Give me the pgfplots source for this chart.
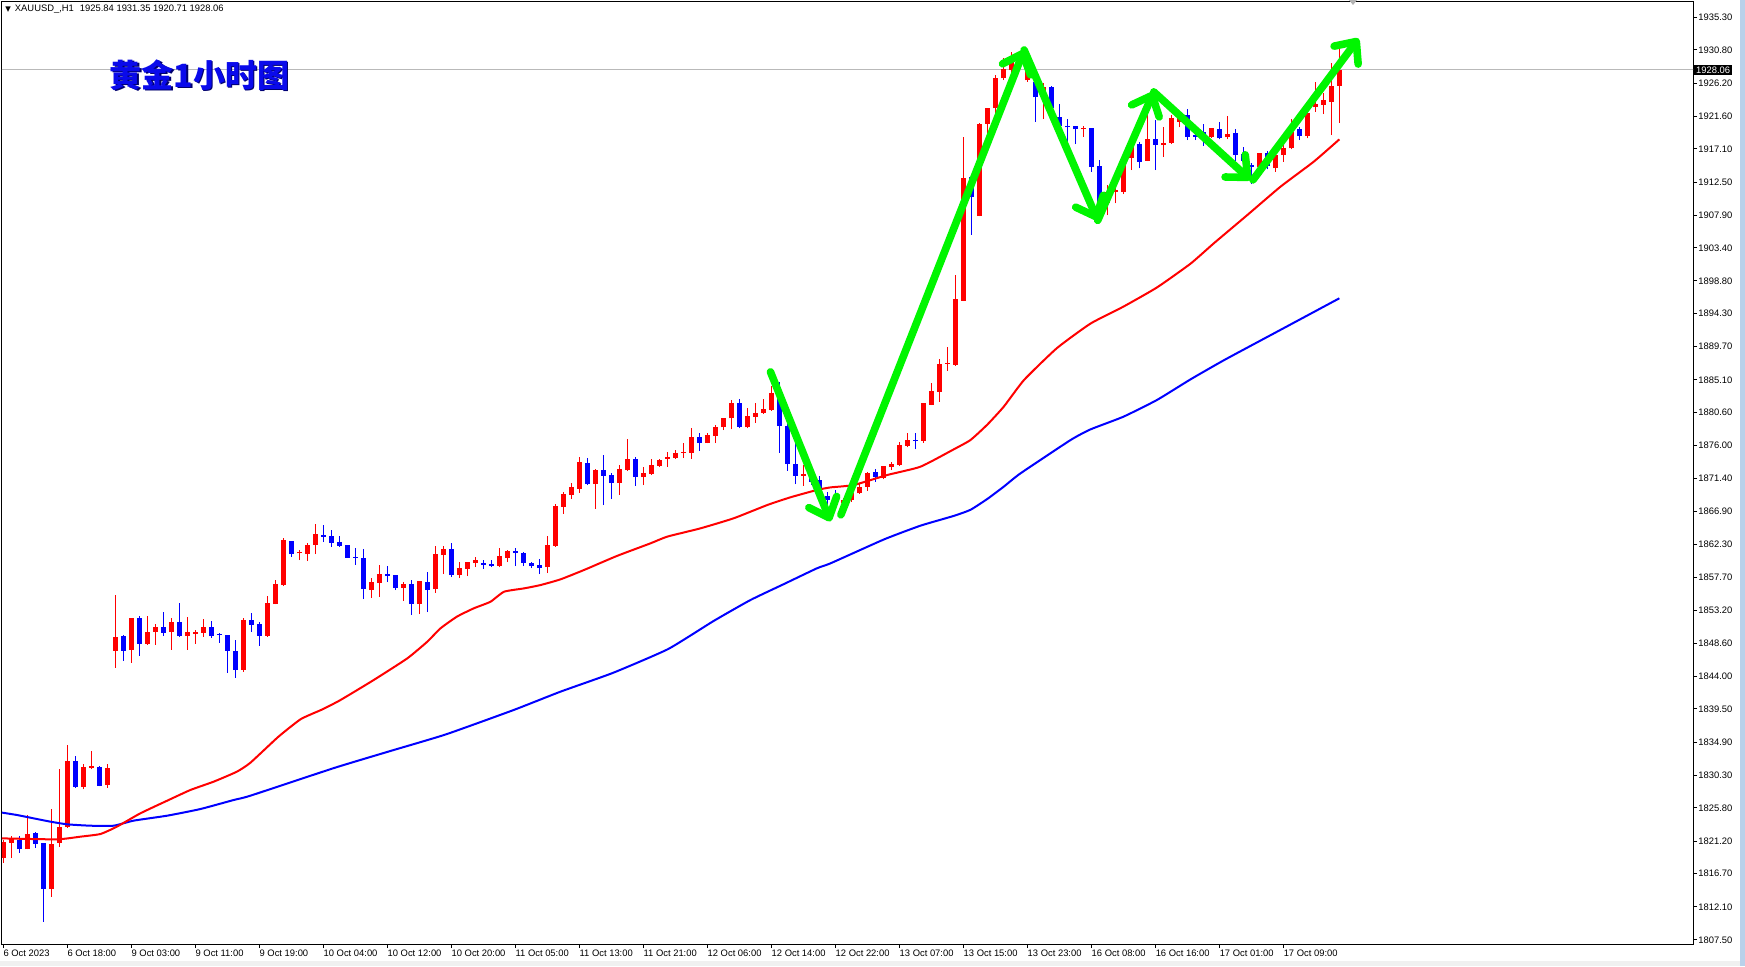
\documentclass[border=0pt]{standalone}
\usepackage{fontspec}
\setmainfont{Liberation Sans}
\newfontfamily\cjk{Noto Sans CJK SC}
\newfontfamily\dejavu{DejaVu Sans}
\usepackage{pgfplots}
\pgfplotsset{compat=1.18}
\usepackage{pgfplotstable}
\usetikzlibrary{arrows.meta}
\definecolor{mtred}{RGB}{255,0,0}
\definecolor{mtblue}{RGB}{0,0,255}
\definecolor{arrowgreen}{RGB}{0,245,0}
\definecolor{striplb}{RGB}{185,209,234}
\definecolor{titleblue}{RGB}{10,10,235}

\pgfplotstableread{
i o h l c
0 1818.90 1821.30 1818.21 1821.12
1 1820.98 1821.90 1818.90 1821.58
3 1820.06 1824.77 1820.06 1822.18
6 1814.61 1825.64 1813.50 1820.80
7 1820.98 1831.19 1820.43 1823.15
8 1823.15 1834.51 1823.06 1832.29
10 1828.74 1831.83 1828.37 1831.46
11 1831.32 1833.68 1831.14 1831.60
13 1829.02 1831.88 1828.60 1831.32
14 1847.58 1855.29 1845.22 1849.47
16 1847.72 1852.15 1845.92 1852.11
18 1848.55 1852.38 1848.41 1850.17
19 1850.17 1851.27 1848.41 1850.86
21 1850.17 1852.11 1847.72 1851.55
23 1849.61 1852.24 1847.72 1850.17
24 1849.93 1850.44 1848.55 1850.17
25 1850.03 1851.97 1849.52 1850.86
30 1844.95 1852.11 1844.67 1851.83
33 1849.65 1855.10 1849.52 1854.18
34 1854.04 1857.37 1854.00 1856.81
35 1856.67 1863.14 1856.53 1862.91
37 1861.06 1861.52 1860.14 1861.25
38 1860.97 1862.54 1860.00 1862.22
39 1862.26 1865.12 1860.97 1863.74
46 1855.98 1857.64 1854.92 1857.09
47 1856.95 1859.49 1855.06 1858.20
50 1856.30 1857.09 1854.46 1856.81
52 1854.04 1857.25 1852.66 1857.23
54 1856.12 1862.08 1855.61 1860.97
55 1860.83 1862.08 1858.20 1861.66
57 1858.06 1859.86 1857.64 1859.03
58 1858.89 1859.90 1857.92 1859.86
59 1859.72 1860.55 1859.17 1860.14
62 1859.31 1861.85 1859.17 1860.69
63 1860.41 1861.52 1859.86 1861.38
68 1859.17 1863.46 1858.34 1862.22
69 1862.12 1867.90 1861.98 1867.62
70 1867.53 1869.56 1866.56 1869.29
71 1869.15 1870.86 1868.59 1870.26
72 1869.98 1874.41 1869.43 1873.72
74 1870.67 1872.75 1867.21 1872.61
77 1870.81 1873.31 1869.15 1872.75
78 1872.61 1876.91 1872.47 1874.14
80 1871.64 1873.03 1870.53 1872.20
81 1872.06 1874.14 1871.92 1873.31
82 1873.17 1874.14 1873.03 1874.00
83 1874.14 1875.11 1873.03 1874.41
84 1874.27 1875.38 1874.20 1874.97
85 1874.97 1876.31 1874.27 1875.11
86 1874.97 1878.43 1874.14 1877.19
88 1876.35 1877.74 1876.30 1877.46
89 1877.32 1878.85 1876.35 1878.57
90 1878.52 1879.80 1878.15 1879.77
91 1879.77 1882.31 1878.25 1881.85
93 1878.52 1881.15 1878.38 1880.09
94 1880.00 1881.85 1879.17 1880.55
95 1880.55 1882.40 1880.37 1881.02
96 1880.92 1884.25 1880.83 1883.23
100 1871.78 1873.30 1870.40 1872.06
105 1867.99 1868.78 1867.90 1868.45
106 1868.45 1869.60 1868.20 1869.38
107 1869.38 1870.86 1869.29 1870.21
108 1870.30 1872.29 1869.75 1872.24
110 1871.46 1873.17 1871.32 1873.17
111 1873.07 1873.77 1872.61 1873.40
112 1873.30 1876.54 1873.17 1876.07
113 1875.98 1877.78 1875.75 1876.77
115 1876.63 1881.94 1876.40 1881.90
116 1881.62 1884.71 1881.60 1883.60
117 1883.46 1887.94 1882.08 1887.30
118 1887.30 1889.61 1886.37 1887.48
119 1887.16 1899.63 1887.02 1896.26
120 1896.07 1918.79 1896.00 1913.02
122 1907.80 1920.73 1907.75 1920.55
123 1920.55 1922.75 1918.33 1922.72
124 1922.72 1927.34 1922.12 1926.87
125 1926.87 1929.64 1926.64 1928.12
126 1928.00 1930.57 1927.60 1929.30
128 1926.60 1929.50 1926.40 1927.90
130 1924.24 1926.27 1921.23 1925.71
135 1919.80 1920.27 1918.79 1919.99
138 1909.55 1912.09 1907.93 1911.17
139 1911.17 1911.63 1909.55 1911.40
140 1911.17 1916.25 1910.84 1916.02
141 1915.79 1917.86 1914.17 1917.40
143 1915.46 1921.79 1915.40 1918.46
145 1917.63 1920.08 1916.02 1917.86
146 1917.96 1921.79 1917.77 1921.33
147 1920.87 1921.79 1920.08 1921.33
151 1918.70 1920.00 1918.60 1919.95
153 1918.70 1921.66 1918.42 1919.16
157 1914.54 1916.58 1914.40 1916.48
159 1914.40 1916.30 1913.94 1916.25
160 1916.25 1917.87 1915.33 1917.18
161 1917.18 1921.19 1917.04 1919.48
163 1918.88 1922.12 1918.56 1922.02
164 1922.86 1926.41 1922.26 1923.32
165 1923.18 1924.80 1921.93 1923.87
166 1923.64 1928.95 1919.02 1925.81
167 1925.84 1931.35 1920.71 1928.06
}\bull

\pgfplotstableread{
i o h l c
2 1821.35 1821.90 1819.60 1820.06
4 1822.27 1822.50 1820.29 1820.80
5 1820.89 1820.95 1810.03 1814.61
9 1832.29 1832.99 1828.60 1828.69
12 1831.46 1831.60 1828.78 1828.88
15 1849.61 1849.70 1846.19 1847.58
17 1852.11 1852.38 1846.89 1848.55
20 1850.86 1852.94 1849.66 1850.03
22 1851.55 1854.18 1849.47 1849.61
26 1850.86 1851.69 1849.38 1849.61
27 1849.84 1850.03 1848.69 1849.75
28 1849.75 1849.80 1844.53 1847.58
29 1847.58 1849.06 1843.84 1844.95
31 1851.83 1852.75 1850.21 1851.18
32 1851.27 1851.59 1848.27 1849.65
36 1862.77 1862.80 1860.60 1860.97
40 1863.65 1864.99 1862.63 1863.37
41 1863.46 1864.29 1861.98 1862.54
42 1862.63 1863.46 1861.98 1862.12
43 1862.22 1862.25 1860.42 1860.46
44 1860.55 1861.85 1859.45 1860.46
45 1860.41 1861.66 1854.73 1856.12
48 1858.20 1859.31 1857.09 1857.92
49 1858.06 1858.10 1855.98 1856.26
51 1856.81 1857.37 1852.52 1854.04
53 1857.09 1858.47 1852.93 1855.98
56 1861.66 1862.49 1857.78 1858.06
60 1859.72 1860.14 1858.94 1859.49
61 1859.58 1860.14 1859.17 1859.31
64 1861.38 1861.85 1859.31 1861.11
65 1861.11 1861.25 1859.31 1859.77
66 1859.72 1859.86 1859.03 1859.31
67 1859.45 1860.28 1858.20 1859.03
73 1873.58 1874.27 1870.53 1870.67
75 1872.61 1874.69 1867.76 1871.78
76 1871.92 1872.20 1868.59 1870.81
79 1874.14 1874.41 1870.40 1871.64
87 1877.19 1877.74 1875.25 1876.35
92 1881.85 1882.40 1878.38 1878.61
97 1883.23 1884.85 1875.01 1878.70
98 1878.70 1879.31 1872.52 1873.44
99 1873.44 1876.30 1870.67 1871.78
101 1871.78 1872.15 1870.53 1871.00
102 1871.23 1871.78 1868.46 1869.01
103 1869.01 1869.50 1867.60 1868.40
104 1868.22 1869.84 1867.85 1867.90
109 1872.29 1872.75 1871.00 1871.59
114 1876.72 1877.78 1875.47 1876.63
121 1913.25 1913.30 1905.17 1910.39
127 1929.30 1930.40 1927.90 1928.80
129 1926.41 1926.45 1920.87 1924.24
131 1925.71 1925.80 1922.39 1922.71
132 1921.47 1923.31 1920.08 1920.27
133 1920.22 1921.19 1918.09 1920.08
134 1920.27 1920.30 1917.77 1919.80
136 1919.99 1920.00 1913.94 1914.63
137 1914.72 1915.55 1908.86 1909.64
142 1917.77 1918.09 1914.40 1915.32
144 1918.46 1921.10 1914.17 1917.63
148 1921.79 1922.57 1918.33 1918.79
149 1919.02 1919.72 1918.33 1918.79
150 1919.40 1920.55 1917.55 1918.90
152 1919.81 1920.82 1918.42 1918.56
154 1919.25 1919.81 1915.47 1916.25
155 1916.39 1917.41 1915.10 1915.47
156 1914.87 1915.19 1912.23 1914.54
158 1916.58 1916.85 1914.27 1914.73
162 1919.81 1920.18 1918.33 1918.88
}\bear

\begin{document}
\begin{tikzpicture}[x=0.5pt,y=0.5pt]
\path[use as bounding box] (0,0) rectangle (1745,966);
\fill[white] (0,0) rectangle (1745,966);
\fill[gray!12] (0,0) rectangle (1745,5);
\fill[striplb] (1740,0) rectangle (1745,966);
\begin{axis}[
  at={(1pt,11pt)}, anchor=south west,
  scale only axis, width=845.5pt, height=471pt,
  xmin=-0.15, xmax=211.2, ymin=1806.94, ymax=1937.45,
  axis line style={black, line width=0.5pt},
  tick align=outside, xtick pos=bottom, ytick pos=right, yticklabel pos=right,
  major tick length=2pt, tick style={black, line width=0.5pt},
  xtick={0,8,...,160},
  xticklabels={6 Oct 2023, 6 Oct 18:00, 9 Oct 03:00, 9 Oct 11:00, 9 Oct 19:00, 10 Oct 04:00, 10 Oct 12:00, 10 Oct 20:00, 11 Oct 05:00, 11 Oct 13:00, 11 Oct 21:00, 12 Oct 06:00, 12 Oct 14:00, 12 Oct 22:00, 13 Oct 07:00, 13 Oct 15:00, 13 Oct 23:00, 16 Oct 08:00, 16 Oct 16:00, 17 Oct 01:00, 17 Oct 09:00},
  ytick={1807.5,1812.1,1816.7,1821.2,1825.8,1830.3,1834.9,1839.5,1844.0,1848.6,1853.2,1857.7,1862.3,1866.9,1871.4,1876.0,1880.6,1885.1,1889.7,1894.3,1898.8,1903.4,1907.9,1912.5,1917.1,1921.6,1926.2,1930.8,1935.3},
  yticklabels={1807.50,1812.10,1816.70,1821.20,1825.80,1830.30,1834.90,1839.50,1844.00,1848.60,1853.20,1857.70,1862.30,1866.90,1871.40,1876.00,1880.60,1885.10,1889.70,1894.30,1898.80,1903.40,1907.90,1912.50,1917.10,1921.60,1926.20,1930.80,1935.30},
  ticklabel style={font=\fontsize{4.7}{5}\selectfont},
  xticklabel style={anchor=north west, inner sep=0pt, yshift=-1pt},
  yticklabel style={anchor=west, inner sep=0pt, xshift=0.5pt},
  /pgf/number format/assume math mode=true,
  candle/.style={draw=none, mark=none, error bars/.cd, y dir=plus, y explicit, error mark=none},
  greenarrow/.style={arrowgreen, line width=3.8pt, line cap=round, line join=round, -{Straight Barb[length=8.5pt, width=15pt, round]}},
]
% bid line
\addplot[gray!55, line width=0.5pt] coordinates {(-1,1928.06) (212,1928.06)};
% wicks
\addplot[candle, error bar style={draw=mtred, line width=0.5pt}]
  table[x=i, y=l, y error expr=\thisrow{h}-\thisrow{l}] {\bull};
\addplot[candle, error bar style={draw=mtblue, line width=0.5pt}]
  table[x=i, y=l, y error expr=\thisrow{h}-\thisrow{l}] {\bear};
% bodies
\addplot[candle, error bar style={draw=mtred, line width=2.5pt}]
  table[x=i, y=o, y error expr={max(\thisrow{c}-\thisrow{o},0.14)}] {\bull};
\addplot[candle, error bar style={draw=mtblue, line width=2.5pt}]
  table[x=i, y=c, y error expr={max(\thisrow{o}-\thisrow{c},0.14)}] {\bear};
% moving averages
\addplot[mtblue, line width=1pt, smooth, tension=0.3] coordinates {
(-0.35,1825.18) (1.73,1824.81) (3.8,1824.35) (5.9,1823.89) (8.0,1823.52) (10.9,1823.33) (13.8,1823.33) (16.3,1824.03) (20.5,1824.72) (24.65,1825.64) (28.8,1826.89) (30.9,1827.49) (41.4,1831.34) (48.3,1833.65) (55.3,1835.97) (63.8,1839.36) (69.65,1841.9) (76.2,1844.5) (83.1,1847.8) (88.8,1851.7) (93.4,1854.60) (97.6,1856.82) (101.7,1858.99) (103.4,1859.68) (110.1,1863.00) (114.65,1864.90) (118.8,1866.25) (120.9,1867.1) (123.0,1868.6) (125.05,1870.30) (127.15,1872.15) (133.4,1876.76) (135.9,1878.24) (140.0,1879.99) (144.2,1882.31) (148.4,1885.17) (152.7,1887.9) (159.6,1892.0) (167,1896.4)};
\addplot[mtred, line width=1pt, smooth, tension=0.3] coordinates {
(-0.35,1821.58) (6.7,1821.44) (9.65,1821.81) (12.15,1822.18) (14.2,1823.19) (17.15,1825.05) (20.5,1826.80) (23.4,1828.28) (26.3,1829.43) (29.2,1830.81) (30.9,1832.06) (34.4,1835.66) (37.2,1838.1) (39.9,1839.45) (42.15,1840.74) (46.3,1843.51) (50.5,1846.51) (53.0,1848.82) (54.65,1850.67) (56.7,1852.29) (58.8,1853.44) (60.9,1854.36) (62.6,1855.75) (65.1,1856.21) (67.15,1856.67) (69.65,1857.46) (72.6,1858.76) (76.7,1860.70) (80.9,1862.45) (83.0,1863.38) (87.15,1864.53) (91.3,1865.92) (95.5,1867.76) (98.4,1868.83) (101.7,1869.84) (103.4,1870.2) (106.3,1870.53) (110.5,1871.92) (114.65,1873.07) (118.8,1875.47) (120.9,1876.77) (123.0,1878.9) (125.05,1881.38) (127.6,1885.1) (131.7,1889.5) (135.9,1892.9) (140.0,1895.24) (144.2,1897.9) (148.4,1901.2) (151.3,1904.01) (155.5,1907.94) (159.65,1911.87) (163.8,1915.33) (167,1918.42)};
% green arrows
\addplot[greenarrow] coordinates {(95.9,1886.2) (103.4,1865.5)};
\addplot[greenarrow] coordinates {(104.7,1866.4) (127.6,1930.8)};
\addplot[greenarrow] coordinates {(127.6,1930.8) (136.8,1907.2)};
\addplot[greenarrow] coordinates {(136.8,1907.2) (143.8,1925.0)};
\addplot[greenarrow] coordinates {(143.8,1925.0) (155.9,1912.8)};
\addplot[greenarrow] coordinates {(156.2,1912.8) (169.4,1932.4)};
\coordinate (bid) at (axis cs:211.2,1928.06);
\end{axis}
\node[fill=black, text=white, anchor=west, inner xsep=1pt, inner ysep=0.9pt, font=\fontsize{4.7}{5}\selectfont, xshift=0.4pt] at (bid) {1928.06};
% header text
\node[anchor=west, inner sep=0pt, font=\fontsize{4.7}{5}\selectfont] at (5,957) {{\dejavu\fontsize{3.6}{4}\selectfont ▼}\hspace{2pt}XAUUSD\_,H1\hspace{3pt}1925.84 1931.35 1920.71 1928.06};
% title
\node[inner sep=0pt, font=\cjk\bfseries\fontsize{16}{18}\selectfont, text={rgb,255:red,0;green,0;blue,110}] at (201,889.5) {黄金1小时图};
\node[inner sep=0pt, font=\cjk\bfseries\fontsize{16}{18}\selectfont, text=titleblue] at (199.5,891) {黄金1小时图};
% small marker at top
\fill[gray!60] (1349,966) -- (1357,966) -- (1353,961) -- cycle;
\end{tikzpicture}
\end{document}
